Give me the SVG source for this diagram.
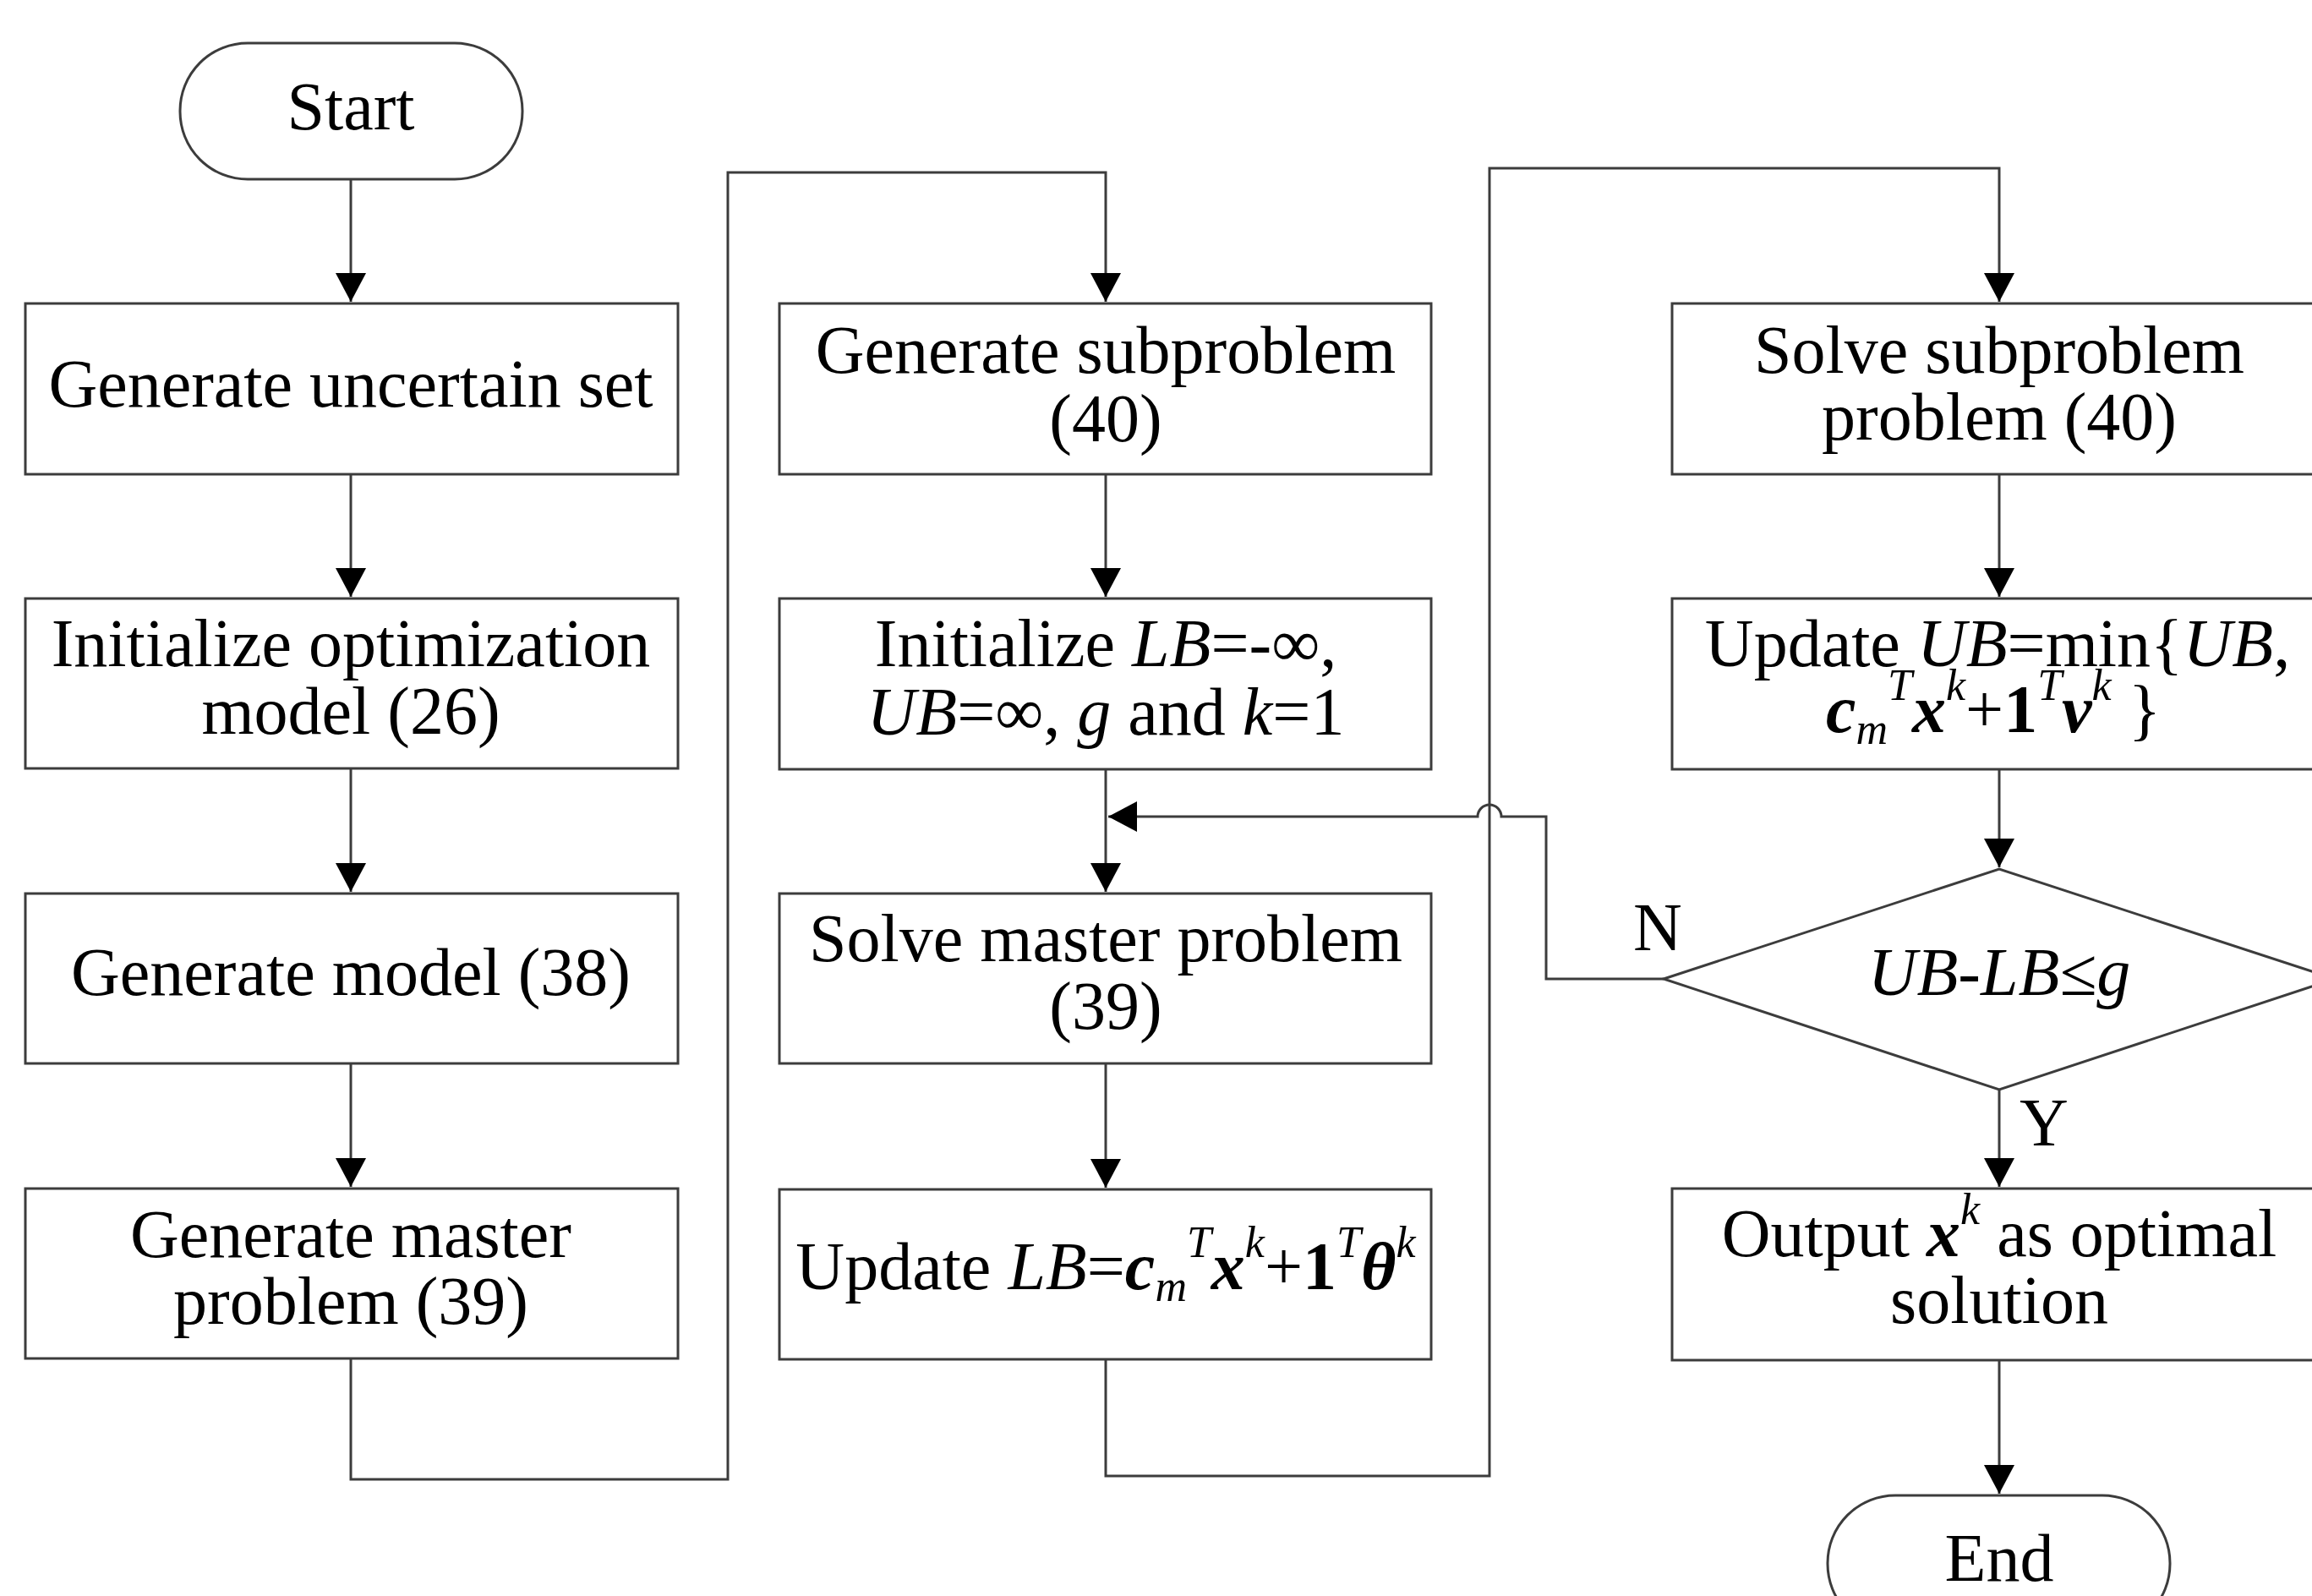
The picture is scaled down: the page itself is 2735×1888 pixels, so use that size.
<svg xmlns="http://www.w3.org/2000/svg" width="2735" height="1888" viewBox="0 0 2735 1888">
<defs>
<style>
.n{fill:#fff;stroke:#3c3c3c;stroke-width:3}
.c{fill:none;stroke:#3c3c3c;stroke-width:3}
.t{font-family:"Liberation Serif","Times New Roman",serif;font-size:80px;fill:#000;text-anchor:middle}
.l{font-family:"Liberation Serif","Times New Roman",serif;font-size:80px;fill:#000}
.i{font-style:italic}
.b{font-weight:bold}
.s{font-size:52px}
</style>
<marker id="ah" viewBox="0 0 34 36" refX="34" refY="18" markerWidth="34" markerHeight="36" markerUnits="userSpaceOnUse" orient="auto">
<path d="M0,0 L34,18 L0,36 z" fill="#000"/>
</marker>
</defs>
<rect width="2735" height="1888" fill="#fff"/>

<g id="connectors">
<path class="c" d="M415,212 V357" marker-end="url(#ah)"/>
<path class="c" d="M415,561 V706" marker-end="url(#ah)"/>
<path class="c" d="M415,909 V1055" marker-end="url(#ah)"/>
<path class="c" d="M415,1258 V1404" marker-end="url(#ah)"/>
<path class="c" d="M415,1607 V1750 H861 V204 H1308 V357" marker-end="url(#ah)"/>
<path class="c" d="M1308,561 V706" marker-end="url(#ah)"/>
<path class="c" d="M1308,910 V1055" marker-end="url(#ah)"/>
<path class="c" d="M1308,1258 V1405" marker-end="url(#ah)"/>
<path class="c" d="M1308,1608 V1746 H1762 V199 H2365 V357" marker-end="url(#ah)"/>
<path class="c" d="M2365,561 V706" marker-end="url(#ah)"/>
<path class="c" d="M2365,910 V1026" marker-end="url(#ah)"/>
<path class="c" d="M2365,1289 V1404" marker-end="url(#ah)"/>
<path class="c" d="M2365,1609 V1767" marker-end="url(#ah)"/>
<path class="c" d="M1968,1158 H1829 V966 H1776 A14,14 0 0 0 1748,966 H1311" marker-end="url(#ah)"/>
<text class="l" x="1932" y="1124">N</text>
<text class="l" x="2389" y="1355">Y</text>
</g>

<g id="start">
<rect class="n" x="213" y="51" width="405" height="161" rx="80" ry="80"/>
<text class="t" x="415" y="153">Start</text>
</g>

<g id="gen-uncertain">
<rect class="n" x="30" y="359" width="772" height="202"/>
<text class="t" x="415" y="481">Generate uncertain set</text>
</g>
<g id="init-opt">
<rect class="n" x="30" y="708" width="772" height="201"/>
<text class="t" x="415" y="788">Initialize optimization</text>
<text class="t" x="415" y="868">model (26)</text>
</g>
<g id="gen-model">
<rect class="n" x="30" y="1057" width="772" height="201"/>
<text class="t" x="415" y="1177">Generate model (38)</text>
</g>
<g id="gen-master">
<rect class="n" x="30" y="1406" width="772" height="201"/>
<text class="t" x="415" y="1487">Generate master</text>
<text class="t" x="415" y="1566">problem (39)</text>
</g>

<g id="gen-sub">
<rect class="n" x="922" y="359" width="771" height="202"/>
<text class="t" x="1308" y="441">Generate subproblem</text>
<text class="t" x="1308" y="522">(40)</text>
</g>
<g id="init-bounds">
<rect class="n" x="922" y="708" width="771" height="202"/>
<text class="t" x="1308" y="788">Initialize <tspan class="i">LB</tspan>=-∞,</text>
<text class="t" x="1308" y="869"><tspan class="i">UB</tspan>=∞, <tspan class="i">g</tspan> and <tspan class="i">k</tspan>=1</text>
</g>
<g id="solve-master">
<rect class="n" x="922" y="1057" width="771" height="201"/>
<text class="t" x="1308" y="1137">Solve master problem</text>
<text class="t" x="1308" y="1217">(39)</text>
</g>
<g id="update-lb">
<rect class="n" x="922" y="1407" width="771" height="201"/>
<text class="t" x="1308" y="1525">Update <tspan class="i">LB</tspan>=<tspan class="b i">c</tspan><tspan class="i s" dy="14">m</tspan><tspan class="i s" dy="-52">T</tspan><tspan class="b i" dy="38">x</tspan><tspan class="i s" dy="-38">k</tspan><tspan dy="38">+</tspan><tspan class="b">1</tspan><tspan class="i s" dy="-38">T</tspan><tspan class="b i" dy="38">θ</tspan><tspan class="i s" dy="-38">k</tspan></text>
</g>

<g id="solve-sub">
<rect class="n" x="1978" y="359" width="775" height="202"/>
<text class="t" x="2365" y="441">Solve subproblem</text>
<text class="t" x="2365" y="520">problem (40)</text>
</g>
<g id="update-ub">
<rect class="n" x="1978" y="708" width="775" height="202"/>
<text class="t" x="2363" y="788">Update <tspan class="i">UB</tspan>=min{<tspan class="i">UB</tspan>,</text>
<text class="t" x="2358" y="866"><tspan class="b i">c</tspan><tspan class="i s" dy="14">m</tspan><tspan class="i s" dy="-52">T</tspan><tspan class="b i" dy="38">x</tspan><tspan class="i s" dy="-38">k</tspan><tspan dy="38">+</tspan><tspan class="b">1</tspan><tspan class="i s" dy="-38">T</tspan><tspan class="b i" dy="38">v</tspan><tspan class="i s" dy="-38">k</tspan><tspan dy="38"> }</tspan></text>
</g>
<g id="check-gap">
<polygon class="n" points="1968,1158 2365,1028 2762,1158 2365,1289"/>
<text class="t i" x="2365" y="1177">UB-LB≤g</text>
</g>
<g id="output">
<rect class="n" x="1978" y="1406" width="775" height="203"/>
<text class="t" x="2365" y="1486">Output <tspan class="b i">x</tspan><tspan class="i s" dy="-38">k</tspan><tspan dy="38"> as optimal</tspan></text>
<text class="t" x="2365" y="1565">solution</text>
</g>
<g id="end">
<rect class="n" x="2162" y="1769" width="405" height="161" rx="80" ry="80"/>
<text class="t" x="2365" y="1870">End</text>
</g>
</svg>
